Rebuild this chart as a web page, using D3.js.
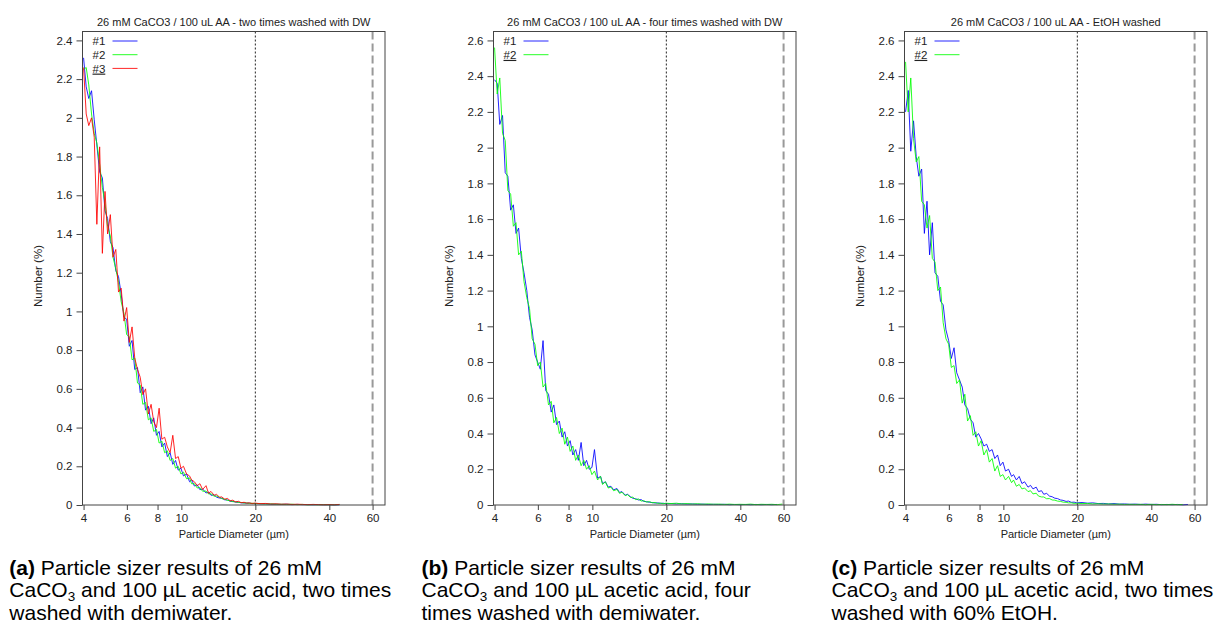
<!DOCTYPE html>
<html lang="en">
<head>
<meta charset="UTF-8">
<title>Particle sizer results</title>
<script src="https://d3js.org/d3.v7.min.js"></script>
<style>
  body { margin: 0; background: #fff; }
  svg text { font-family: "Liberation Sans", Arial, sans-serif; }
</style>
</head>
<body>
<svg width="1221" height="625"></svg>
<script>
// particle diameter bins (µm), shared by all runs
const diam = [
  4.00, 4.10, 4.20, 4.31, 4.42, 4.53, 4.65, 4.77, 4.89, 5.01,
  5.14, 5.27, 5.41, 5.55, 5.69, 5.84, 5.99, 6.14, 6.30, 6.46,
  6.63, 6.80, 6.97, 7.15, 7.34, 7.53, 7.72, 7.92, 8.12, 8.33,
  8.55, 8.77, 9.00, 9.23, 9.47, 9.71, 9.96, 10.2, 10.5, 10.8,
  11.0, 11.3, 11.6, 11.9, 12.2, 12.6, 12.9, 13.2, 13.6, 13.9,
  14.3, 14.6, 15.0, 15.4, 15.8, 16.2, 16.6, 17.1, 17.5, 18.0,
  18.4, 18.9, 19.4, 19.9, 20.9, 22.0, 23.1, 24.3, 25.5, 26.8,
  28.2, 29.6, 31.1, 32.7, 34.4, 36.1, 37.9, 39.9, 41.9, 44.0,
  46.3, 48.6, 51.1, 53.7, 56.4, 59.3
];

// (a) two times washed with DW
const runA1 = [
  2.31, 2.16, 2.10, 2.14, 1.99, 1.86, 1.72, 1.69, 1.52, 1.48,
  1.36, 1.33, 1.21, 1.18, 1.09, 0.97, 0.96, 0.82, 0.85, 0.70,
  0.71, 0.58, 0.61, 0.49, 0.51, 0.42, 0.45, 0.36, 0.38, 0.30,
  0.32, 0.25, 0.27, 0.21, 0.23, 0.18, 0.19, 0.15, 0.16, 0.12,
  0.13, 0.098, 0.104, 0.079, 0.083, 0.062, 0.067, 0.050, 0.053, 0.040,
  0.036, 0.035, 0.027, 0.026, 0.019, 0.019, 0.015, 0.014, 0.011, 0.011,
  0.009, 0.010, 0.007, 0.008, 0.006, 0.006, 0.004, 0.004, 0.003, 0.004,
  0.002, 0.003, 0.002, 0.002, 0.001, 0.002, 0.001, 0.001, 0.000, 0.001,
  null, null, null, null, null, null
];
const runA2 = [
  2.25, 2.26, 2.17, 2.02, 1.92, 1.87, 1.76, 1.64, 1.56, 1.44,
  1.39, 1.28, 1.22, 1.15, 1.05, 0.99, 0.88, 0.87, 0.75, 0.76,
  0.63, 0.62, 0.52, 0.53, 0.44, 0.45, 0.38, 0.39, 0.32, 0.33,
  0.27, 0.28, 0.23, 0.24, 0.19, 0.20, 0.16, 0.17, 0.135, 0.14,
  0.11, 0.11, 0.088, 0.09, 0.071, 0.072, 0.057, 0.058, 0.045, 0.047,
  0.040, 0.033, 0.030, 0.024, 0.022, 0.017, 0.017, 0.013, 0.013, 0.010,
  0.011, 0.008, 0.009, 0.007, 0.007, 0.005, 0.006, 0.004, 0.004, 0.003,
  0.004, 0.002, 0.003, 0.001, 0.002, 0.001, 0.002, 0.001, 0.001, 0.002,
  null, null, null, null, null, null
];
const runA3 = [
  2.26, 2.02, 1.96, 2.00, 1.90, 1.45, 1.85, 1.30, 1.62, 1.40,
  1.50, 1.28, 1.32, 1.10, 1.12, 0.95, 1.02, 0.84, 0.92, 0.76,
  0.70, 0.66, 0.57, 0.60, 0.47, 0.52, 0.43, 0.40, 0.50, 0.34,
  0.35, 0.30, 0.27, 0.36, 0.24, 0.25, 0.19, 0.20, 0.16, 0.15,
  0.13, 0.12, 0.10, 0.11, 0.08, 0.10, 0.06, 0.07, 0.05, 0.055,
  0.040, 0.042, 0.030, 0.034, 0.022, 0.025, 0.016, 0.019, 0.012, 0.014,
  0.010, 0.011, 0.008, 0.010, 0.007, 0.008, 0.005, 0.006, 0.004, 0.005,
  0.003, 0.004, 0.003, 0.002, 0.003, 0.002, 0.001, 0.002, 0.001, 0.003,
  null, null, null, null, null, null
];

// (b) four times washed with DW
const runB1 = [
  2.38, 2.36, 2.13, 2.18, 1.86, 1.84, 1.65, 1.68, 1.52, 1.55,
  1.38, 1.30, 1.20, 1.05, 0.98, 0.84, 0.80, 0.76, 0.92, 0.64,
  0.62, 0.52, 0.56, 0.45, 0.47, 0.38, 0.41, 0.33, 0.36, 0.28,
  0.31, 0.25, 0.35, 0.22, 0.25, 0.20, 0.21, 0.31, 0.15, 0.16,
  0.12, 0.13, 0.10, 0.105, 0.085, 0.092, 0.07, 0.075, 0.055, 0.06,
  0.046, 0.038, 0.035, 0.028, 0.030, 0.020, 0.019, 0.015, 0.014, 0.011,
  0.012, 0.009, 0.010, 0.007, 0.008, 0.006, 0.007, 0.005, 0.006, 0.004,
  0.005, 0.003, 0.004, 0.003, 0.004, 0.002, 0.003, 0.002, 0.003, 0.002,
  0.003, 0.002, 0.003, 0.002, 0.003, null
];
const runB2 = [
  2.56, 2.30, 2.39, 2.08, 2.04, 1.76, 1.74, 1.56, 1.58, 1.40,
  1.42, 1.25, 1.16, 1.10, 0.93, 0.90, 0.78, 0.80, 0.66, 0.68,
  0.56, 0.58, 0.46, 0.49, 0.40, 0.43, 0.34, 0.38, 0.30, 0.33,
  0.25, 0.28, 0.22, 0.25, 0.20, 0.22, 0.17, 0.19, 0.14, 0.16,
  0.115, 0.13, 0.095, 0.10, 0.08, 0.087, 0.065, 0.072, 0.052, 0.058,
  0.042, 0.044, 0.030, 0.034, 0.022, 0.024, 0.016, 0.019, 0.012, 0.014,
  0.009, 0.011, 0.007, 0.010, 0.008, 0.010, 0.006, 0.008, 0.005, 0.007,
  0.004, 0.006, 0.004, 0.005, 0.003, 0.005, 0.003, 0.004, 0.003, 0.005,
  0.002, 0.004, 0.003, 0.004, 0.002, 0.005
];

// (c) EtOH washed
const runC1 = [
  2.20, 2.32, 1.98, 2.15, 1.95, 1.84, 1.88, 1.52, 1.70, 1.40,
  1.58, 1.30, 1.28, 1.14, 1.12, 0.98, 0.92, 0.82, 0.88, 0.74,
  0.70, 0.66, 0.56, 0.54, 0.48, 0.46, 0.38, 0.40, 0.37, 0.33,
  0.34, 0.30, 0.31, 0.26, 0.28, 0.22, 0.24, 0.19, 0.20, 0.16,
  0.17, 0.14, 0.16, 0.12, 0.13, 0.10, 0.11, 0.09, 0.10, 0.075,
  0.08, 0.06, 0.065, 0.05, 0.046, 0.038, 0.036, 0.028, 0.026, 0.020,
  0.022, 0.015, 0.016, 0.012, 0.014, 0.010, 0.012, 0.008, 0.009, 0.006,
  0.008, 0.005, 0.006, 0.004, 0.005, 0.003, 0.005, 0.003, 0.004, 0.002,
  0.003, 0.002, 0.003, 0.001, 0.003, null
];
const runC2 = [
  2.48, 2.20, 2.39, 2.05, 1.92, 1.95, 1.70, 1.68, 1.55, 1.62,
  1.38, 1.36, 1.20, 1.22, 1.02, 0.93, 0.90, 0.77, 0.78, 0.68,
  0.70, 0.57, 0.62, 0.47, 0.50, 0.39, 0.41, 0.33, 0.36, 0.28,
  0.31, 0.24, 0.26, 0.19, 0.22, 0.16, 0.17, 0.14, 0.16, 0.125,
  0.14, 0.105, 0.115, 0.09, 0.095, 0.075, 0.08, 0.062, 0.066, 0.05,
  0.045, 0.045, 0.035, 0.036, 0.028, 0.027, 0.022, 0.020, 0.016, 0.015,
  0.012, 0.012, 0.009, 0.010, 0.008, 0.009, 0.006, 0.007, 0.005, 0.006,
  0.004, 0.005, 0.003, 0.004, 0.003, 0.004, 0.002, 0.004, 0.002, 0.003,
  0.002, 0.004, 0.002, 0.003, null, null
];

const xTicks = [4, 6, 8, 10, 20, 40, 60];
const yTicksA = [0, 0.2, 0.4, 0.6, 0.8, 1, 1.2, 1.4, 1.6, 1.8, 2, 2.2, 2.4];
const yTicksBC = [0, 0.2, 0.4, 0.6, 0.8, 1, 1.2, 1.4, 1.6, 1.8, 2, 2.2, 2.4, 2.6];
const runNames = ["#1", "#2", "#3"];
const runColors = ["#0000ff", "#00ff00", "#ff0000"];

const panels = [
  {
    left: 82.5, captionX: 9.3, yMax: 2.446, yTicks: yTicksA,
    title: "26 mM CaCO3 / 100 uL AA - two times washed with DW",
    runs: [runA1, runA2, runA3],
    tag: "(a)", line1: " Particle sizer results of 26 mM",
    line2: " and 100 µL acetic acid, two times", line3: "washed with demiwater."
  },
  {
    left: 493.5, captionX: 421.5, yMax: 2.65, yTicks: yTicksBC,
    title: "26 mM CaCO3 / 100 uL AA - four times washed with DW",
    runs: [runB1, runB2],
    tag: "(b)", line1: " Particle sizer results of 26 mM",
    line2: " and 100 µL acetic acid, four", line3: "times washed with demiwater."
  },
  {
    left: 904.5, captionX: 831.5, yMax: 2.65, yTicks: yTicksBC,
    title: "26 mM CaCO3 / 100 uL AA - EtOH washed",
    runs: [runC1, runC2],
    tag: "(c)", line1: " Particle sizer results of 26 mM",
    line2: " and 100 µL acetic acid, two times", line3: "washed with 60% EtOH."
  }
];

const svg = d3.select("svg");
const plotTop = 31.5, plotBottom = 505, plotWidth = 302.5;

panels.forEach(p => {
  const g = svg.append("g");
  const x = d3.scaleLog().domain([3.96, 67.4]).range([p.left, p.left + plotWidth]);
  const y = d3.scaleLinear().domain([0, p.yMax]).range([plotBottom, plotTop]);

  // axes
  const xAxis = g.append("g")
      .attr("transform", `translate(0,${plotBottom})`)
      .call(d3.axisBottom(x).tickValues(xTicks).tickFormat(d3.format("d"))
        .tickSize(5).tickPadding(4).tickSizeOuter(0));
  const yAxis = g.append("g")
      .attr("transform", `translate(${p.left},0)`)
      .call(d3.axisLeft(y).tickValues(p.yTicks).tickFormat(d3.format("~g"))
        .tickSize(6).tickPadding(4).tickSizeOuter(0));
  [xAxis, yAxis].forEach(a => {
    a.select(".domain").remove();
    a.attr("font-family", null).attr("font-size", 11.5);
    a.selectAll("line").attr("stroke", "#444");
    a.selectAll("text").attr("fill", "#222");
  });

  // the runs
  const line = d3.line()
      .defined(d => d[1] !== null)
      .x(d => x(d[0]))
      .y(d => y(d[1]));
  p.runs.forEach((run, i) => {
    g.append("path")
        .datum(diam.map((d, j) => [d, run[j]]))
        .attr("d", line)
        .attr("fill", "none")
        .attr("stroke", runColors[i])
        .attr("stroke-width", 1)
        .attr("stroke-opacity", 0.85);
  });

  // marker lines at 20 and 60 µm
  g.append("line")
      .attr("x1", x(20)).attr("x2", x(20))
      .attr("y1", plotTop).attr("y2", plotBottom)
      .attr("stroke", "#222").attr("stroke-dasharray", "2,2");
  g.append("line")
      .attr("x1", x(60)).attr("x2", x(60))
      .attr("y1", plotTop).attr("y2", plotBottom)
      .attr("stroke", "#999").attr("stroke-width", 2).attr("stroke-dasharray", "8,4");

  // frame
  g.append("rect")
      .attr("x", p.left).attr("y", plotTop)
      .attr("width", plotWidth).attr("height", plotBottom - plotTop)
      .attr("fill", "none").attr("stroke", "#444");

  // legend
  p.runs.forEach((run, i) => {
    const ly = 41 + 13.7 * i;
    g.append("text")
        .attr("x", p.left + 10).attr("y", ly + 4.2)
        .attr("font-size", 11.5).attr("fill", "#222")
        .attr("text-decoration", i === p.runs.length - 1 ? "underline" : null)
        .text(runNames[i]);
    g.append("line")
        .attr("x1", p.left + 30).attr("x2", p.left + 55)
        .attr("y1", ly).attr("y2", ly)
        .attr("stroke", runColors[i]).attr("stroke-opacity", 0.85);
  });

  // titles
  const cx = p.left + plotWidth / 2;
  g.append("text")
      .attr("x", cx).attr("y", 26)
      .attr("text-anchor", "middle").attr("font-size", 11).attr("fill", "#222")
      .text(p.title);
  g.append("text")
      .attr("x", cx).attr("y", 537.5)
      .attr("text-anchor", "middle").attr("font-size", 11).attr("fill", "#222")
      .text("Particle Diameter (µm)");
  g.append("text")
      .attr("transform", `translate(${p.left - 41},276) rotate(-90)`)
      .attr("text-anchor", "middle").attr("font-size", 11.5).attr("fill", "#222")
      .text("Number (%)");

  // caption below the plot
  const cap = g.append("g").attr("font-size", 21).attr("fill", "#000");
  const t1 = cap.append("text").attr("x", p.captionX).attr("y", 575);
  t1.append("tspan").attr("font-weight", "bold").text(p.tag);
  t1.append("tspan").text(p.line1);
  const t2 = cap.append("text").attr("x", p.captionX).attr("y", 597);
  t2.append("tspan").text("CaCO");
  t2.append("tspan").attr("font-size", 13.5).attr("dy", 3.5).text("3");
  t2.append("tspan").attr("dy", -3.5).text(p.line2);
  cap.append("text").attr("x", p.captionX).attr("y", 620).text(p.line3);
});
</script>
</body>
</html>
